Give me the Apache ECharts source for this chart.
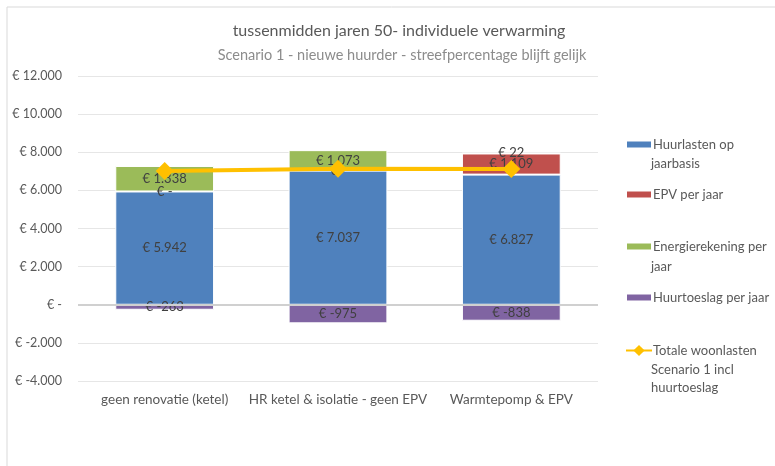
<!DOCTYPE html>
<html>
<head>
<meta charset="utf-8">
<script src="https://cdn.jsdelivr.net/npm/echarts@6/dist/echarts.min.js"></script>
<style>
  html, body { margin: 0; padding: 0; background: #fff; }
  #chart { width: 775px; height: 466px; }
</style>
</head>
<body>
<div id="chart"></div>
<script>
// data
var categories = ['geen renovatie (ketel)', 'HR ketel & isolatie - geen EPV', 'Warmtepomp & EPV'];
var huurlasten = [5942, 7037, 6827];
var epv = [0, 0, 1109];
var energie = [1338, 1073, 22];
var huurtoeslag = [-263, -975, -838];
var totaal = [7017, 7135, 7120];

var font = 'Lato, "Open Sans", sans-serif';
var legendColor = '#595959';

function euro(v) {
    if (v === 0) return '€ -';
    var s = Math.abs(v).toString().replace(/\B(?=(\d{3})+(?!\d))/g, '.');
    return '€ ' + (v < 0 ? '-' : '') + s;
}

var chart = echarts.init(document.getElementById('chart'));

var barLabel = {
    show: true,
    position: 'inside',
    color: '#404040',
    fontSize: 13,
    fontFamily: font,
    formatter: function (p) { return euro(p.value); }
};

function barSeries(name, data, color) {
    return {
        name: name,
        type: 'bar',
        stack: 'tot',
        data: data,
        barWidth: '57%',
        itemStyle: { color: color, borderColor: '#fff', borderWidth: 1 },
        label: barLabel
    };
}

// legend text: first line in the legend item, further lines as plain text below it
var legendLabels = {
    'Huurlasten op jaarbasis': 'Huurlasten op',
    'Energierekening per jaar': 'Energierekening per',
    'Totale woonlasten Scenario 1 incl huurtoeslag': 'Totale woonlasten'
};

function legendAt(name, centerY, lineItem) {
    var l = {
        data: [name],
        left: 625,
        top: centerY - 8,
        padding: 0,
        itemWidth: 26,
        itemHeight: lineItem ? 14 : 8,
        itemGap: 2,
        textStyle: { color: legendColor, fontSize: 13, fontFamily: font, padding: [0, 0, 0, -4] },
        formatter: function (n) { return legendLabels[n] || n; }
    };
    if (!lineItem) l.icon = 'rect';
    return l;
}

function extraLine(text, y) {
    return {
        type: 'text',
        x: 651,
        y: y,
        silent: true,
        style: { text: text, fill: legendColor, font: '13px ' + font, textVerticalAlign: 'middle' }
    };
}

var option = {
    backgroundColor: '#fff',
    animation: false,
    graphic: [{
        type: 'rect',
        shape: { x: 7, y: 7, width: 800, height: 500 },
        style: { fill: 'none', stroke: '#d9d9d9', lineWidth: 1 },
        silent: true
    },
        extraLine('jaarbasis', 164),
        extraLine('jaar', 267),
        extraLine('Scenario 1 incl', 370),
        extraLine('huurtoeslag', 388)
    ],
    title: [{
        text: 'tussenmidden jaren 50- individuele verwarming',
        left: 394,
        textAlign: 'center',
        top: 18,
        textStyle: { color: '#595959', fontSize: 16, fontWeight: 'normal', fontFamily: font }
    }, {
        text: 'Scenario 1 - nieuwe huurder - streefpercentage blijft gelijk',
        left: 397,
        textAlign: 'center',
        top: 43,
        textStyle: { color: '#8c8c8c', fontSize: 14.5, fontWeight: 'normal', fontFamily: font }
    }],
    legend: [
        legendAt('Huurlasten op jaarbasis', 146),
        legendAt('EPV per jaar', 196),
        legendAt('Energierekening per jaar', 248),
        legendAt('Huurtoeslag per jaar', 299),
        legendAt('Totale woonlasten Scenario 1 incl huurtoeslag', 352, true)
    ],
    grid: { left: 78, right: 177, top: 76, bottom: 85 },
    xAxis: {
        type: 'category',
        data: categories,
        axisLine: { show: false },
        axisTick: { show: false },
        axisLabel: { color: '#595959', fontSize: 13.5, fontFamily: font, margin: 12, interval: 0 }
    },
    yAxis: {
        type: 'value',
        min: -4000,
        max: 12000,
        interval: 2000,
        axisLine: { show: false },
        axisTick: { show: false },
        axisLabel: {
            color: '#595959', fontSize: 12.5, fontFamily: font, margin: 16,
            formatter: function (v) { return euro(v); }
        },
        splitLine: { lineStyle: { color: '#e6e6e6', width: 1 } }
    },
    series: [
        barSeries('Huurlasten op jaarbasis', huurlasten, '#4F81BD'),
        barSeries('EPV per jaar', epv, '#C0504D'),
        barSeries('Energierekening per jaar', energie, '#9BBB59'),
        barSeries('Huurtoeslag per jaar', huurtoeslag, '#8064A2'),
        {
            name: 'Totale woonlasten Scenario 1 incl huurtoeslag',
            type: 'line',
            data: totaal,
            symbol: 'diamond',
            symbolSize: 18,
            itemStyle: { color: '#FFC000' },
            lineStyle: { color: '#FFC000', width: 4 },
            z: 5
        },
        {
            // darker zero line
            type: 'line',
            data: [],
            markLine: {
                silent: true,
                symbol: 'none',
                label: { show: false },
                lineStyle: { color: '#d0d0d0', width: 2, type: 'solid' },
                data: [{ yAxis: 0 }]
            },
            z: 1
        }
    ]
};

chart.setOption(option);
</script>
</body>
</html>
